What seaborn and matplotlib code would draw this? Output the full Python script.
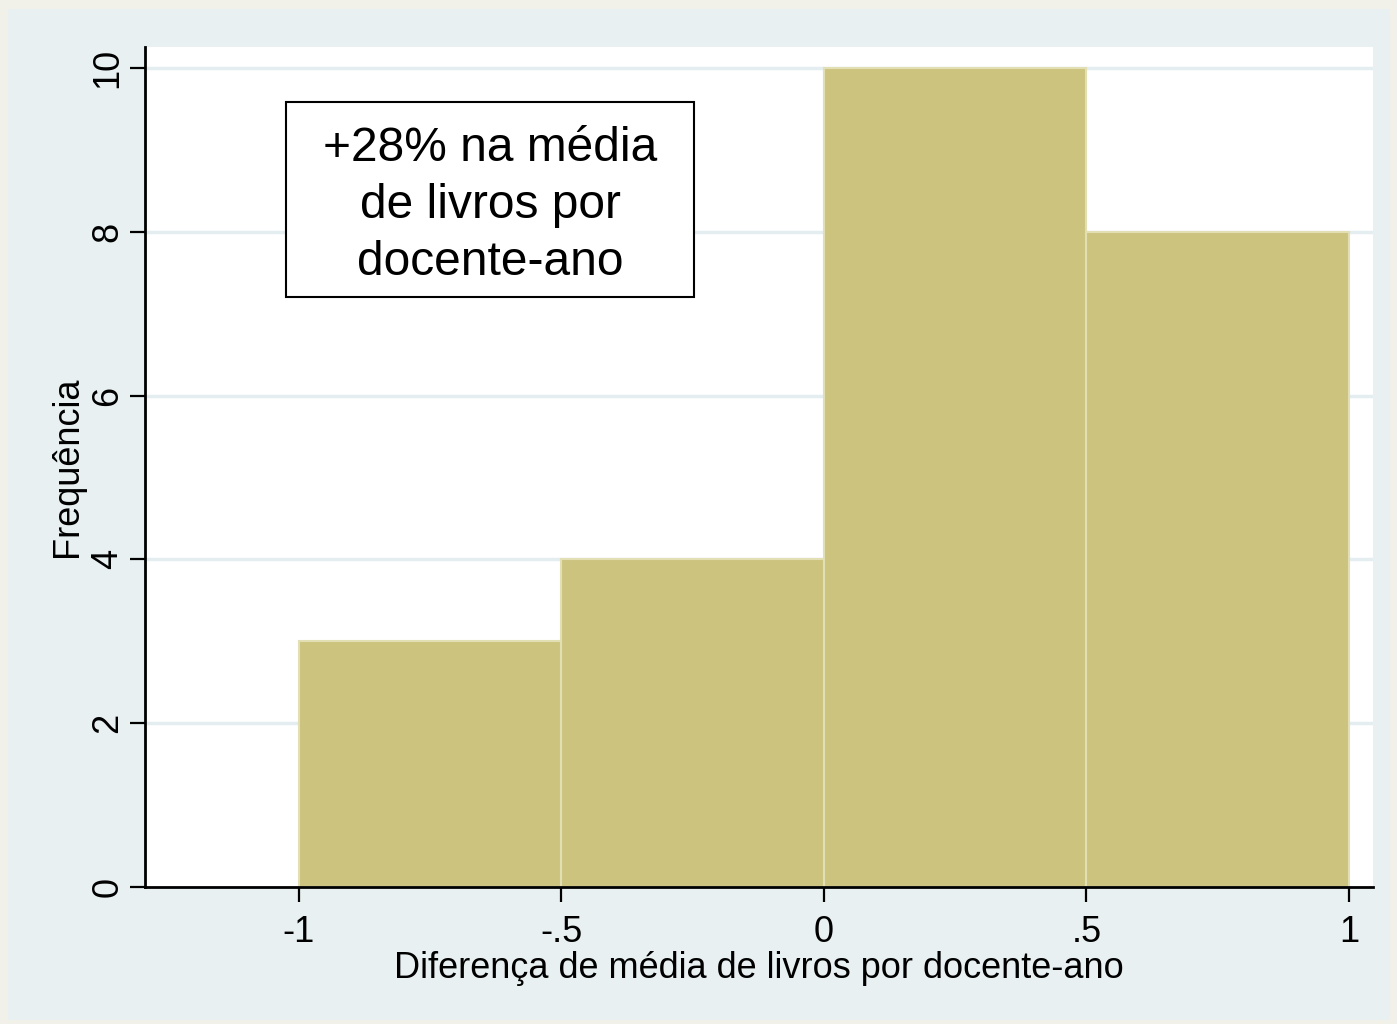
import matplotlib
matplotlib.use('Agg')
import matplotlib.pyplot as plt
from matplotlib.patches import Rectangle
import numpy as np
import seaborn as sns

# histogram bins and counts
bin_edges = [-1.0, -0.5, 0.0, 0.5, 1.0]
counts = [3, 4, 10, 8]
x_ticks = [-1, -0.5, 0, 0.5, 1]
x_ticklabels = ['-1', '-.5', '0', '.5', '1']
y_ticks = [0, 2, 4, 6, 8, 10]
note = '+28% na média\nde livros por\ndocente-ano'

centers = [(bin_edges[i] + bin_edges[i + 1]) / 2 for i in range(len(counts))]

sns.set_style('white')
plt.rcParams['font.family'] = ['Liberation Sans', 'DejaVu Sans']
plt.rcParams['text.color'] = 'black'
plt.rcParams['axes.labelcolor'] = 'black'
plt.rcParams['xtick.color'] = 'black'
plt.rcParams['ytick.color'] = 'black'

bg = '#e8f0f2'
fig = plt.figure(figsize=(13.97, 10.24), dpi=100, facecolor='#f1f1ea')
# stata graph region
fig.add_artist(Rectangle((8 / 1397, 4 / 1024), 1382 / 1397, 1011 / 1024,
                         transform=fig.transFigure, facecolor=bg, edgecolor='none', zorder=-10))

ax = fig.add_axes([145 / 1397, 137 / 1024, 1228 / 1397, 840 / 1024])
ax.set_facecolor('white')

sns.histplot(x=centers, weights=counts, bins=bin_edges, ax=ax,
             color='#cbc37e', alpha=1, edgecolor='#e3dfb4', linewidth=1.5, zorder=2)

ax.set_xlim(-1.293, 1.046)
ax.set_ylim(0, 10.256)

# grid lines
for yv in y_ticks[1:]:
    ax.axhline(yv, color='#e4edf0', linewidth=2.5, zorder=1)

ax.set_xticks(x_ticks)
ax.set_xticklabels(x_ticklabels)
ax.set_yticks(y_ticks)
ax.set_yticklabels([str(v) for v in y_ticks], rotation=90, va='center')
ax.tick_params(axis='both', labelsize=26, length=11, width=1.6, color='black',
               direction='out', bottom=True, left=True, labelcolor='black')
ax.tick_params(axis='x', pad=9)
ax.tick_params(axis='y', pad=3)

for s in ['top', 'right']:
    ax.spines[s].set_visible(False)
for s in ['left', 'bottom']:
    ax.spines[s].set_linewidth(2)
    ax.spines[s].set_color('black')
    ax.spines[s].set_zorder(5)

ax.set_xlabel('Diferença de média de livros por docente-ano', fontsize=26)
ax.set_ylabel('Frequência', fontsize=26)
ax.xaxis.set_label_coords(0.5, -0.076)
ax.yaxis.set_label_coords(-0.0485, 0.5)

# annotation box
ax.add_patch(Rectangle((0.1148, 0.7024), 0.3323, 0.2321, transform=ax.transAxes,
                       facecolor='white', edgecolor='black', linewidth=1.5, zorder=6))
ax.text(0.2809, 0.8114, note, transform=ax.transAxes,
        ha='center', va='center', fontsize=34.5, linespacing=1.34, zorder=7)

fig.savefig('out.png', dpi=100, facecolor=fig.get_facecolor())
